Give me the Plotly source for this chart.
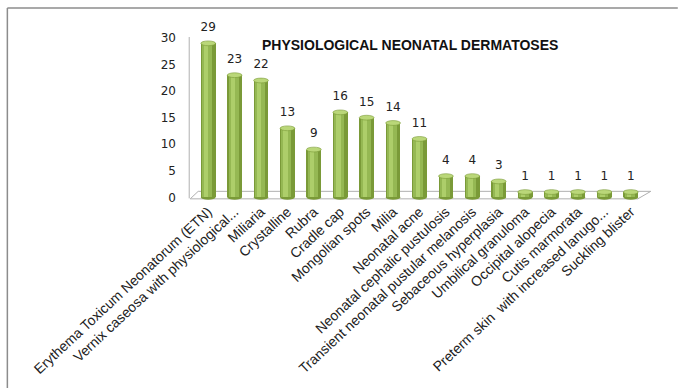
import plotly.graph_objects as go

categories = [
    "Erythema Toxicum Neonatorum (ETN)",
    "Vernix caseosa with physiological...",
    "Miliaria",
    "Crystalline",
    "Rubra",
    "Cradle cap",
    "Mongolian spots",
    "Milia",
    "Neonatal acne",
    "Neonatal cephalic pustulosis",
    "Transient neonatal pustular melanosis",
    "Sebaceous hyperplasia",
    "Umbilical granuloma",
    "Occipital alopecia",
    "Cutis marmorata",
    "Preterm skin  with increased lanugo...",
    "Suckling blister",
]
values = [29, 23, 22, 13, 9, 16, 15, 14, 11, 4, 4, 3, 1, 1, 1, 1, 1]
y_ticks = [0, 5, 10, 15, 20, 25, 30]
title = "PHYSIOLOGICAL NEONATAL DERMATOSES"

W, H = 678, 388
L, R, T, B = 194.8, 644.2, 38.0, 199.65
Y0, Y1 = -0.5, 30


def px(xp):
    return (xp - L) / (R - L)


def py(yp):
    return (B - yp) / (B - T)


idx = list(range(len(categories)))
BW = 0.56
dark = "#7a9a38"
mid = "#95b853"
light = "#adce6a"
cap = "#bad779"

fig = go.Figure()
fig.add_trace(go.Bar(x=idx, y=values, width=BW, offset=-BW / 2,
                     marker=dict(color=dark, line=dict(width=0)), hoverinfo="skip"))
fig.add_trace(go.Bar(x=idx, y=values, width=0.38, offset=-0.23,
                     marker=dict(color=mid, line=dict(width=0)), hoverinfo="skip"))
fig.add_trace(go.Bar(x=idx, y=values, width=0.16, offset=-0.15,
                     marker=dict(color=light, line=dict(width=0)), hoverinfo="skip"))
fig.add_trace(go.Scatter(x=idx, y=values, mode="markers+text", text=[str(v) for v in values],
                         textposition="top center",
                         marker=dict(size=13, opacity=0),
                         textfont=dict(family="DejaVu Sans", size=12, color="#222"),
                         hoverinfo="skip", cliponaxis=False))

shapes = []
# border (top and left)
shapes.append(dict(type="line", xref="paper", yref="paper", x0=px(7), x1=px(678), y0=py(8), y1=py(8),
                   line=dict(color="#8c8c8c", width=1.5)))
shapes.append(dict(type="line", xref="paper", yref="paper", x0=px(7), x1=px(7), y0=py(8), y1=py(388),
                   line=dict(color="#8c8c8c", width=1.5)))
# floor
shapes.append(dict(type="path", xref="paper", yref="paper", layer="below",
                   path=f"M {px(190)} {py(198.5)} L {px(198)} {py(191)} L {px(651)} {py(191)} L {px(638)} {py(198.5)} Z",
                   fillcolor="white", line=dict(color="#b0b0b0", width=1)))
# vertical axis line
shapes.append(dict(type="line", xref="paper", yref="paper", x0=px(189), x1=px(189), y0=py(37), y1=py(198),
                   line=dict(color="#b0b0b0", width=1)))
for i, v in zip(idx, values):
    shapes.append(dict(type="circle", xref="x", yref="y", layer="below",
                       x0=i - BW / 2, x1=i + BW / 2, y0=-0.45, y1=0.45,
                       fillcolor=dark, line=dict(width=0)))
    shapes.append(dict(type="circle", xref="x", yref="y", layer="above",
                       x0=i - BW / 2, x1=i + BW / 2, y0=v - 0.45, y1=v + 0.45,
                       fillcolor=cap, line=dict(color=dark, width=0.6)))

fig.update_layout(
    width=W, height=H,
    margin=dict(l=L, r=W - R, t=T, b=H - B, pad=0),
    paper_bgcolor="white", plot_bgcolor="rgba(0,0,0,0)",
    barmode="overlay", showlegend=False, bargap=0,
    shapes=shapes,
    annotations=[dict(text=f"<b>{title}</b>", xref="paper", yref="paper",
                      x=px(410), y=py(35), showarrow=False,
                      font=dict(family="Liberation Sans", size=14, color="#111"))],
    xaxis=dict(type="linear", range=[-0.5, len(categories) - 0.5], tickmode="array",
               tickvals=idx, ticktext=categories, tickangle=-43, showgrid=False,
               zeroline=False, showline=False, ticks="",
               tickfont=dict(family="Liberation Sans", size=14, color="#222")),
    yaxis=dict(range=[Y0, Y1], tickmode="array", tickvals=y_ticks, showgrid=False,
               zeroline=False, showline=False, ticks="", ticklabelstandoff=18,
               tickfont=dict(family="DejaVu Sans", size=12, color="#222")),
)

fig.write_html("out.html")
